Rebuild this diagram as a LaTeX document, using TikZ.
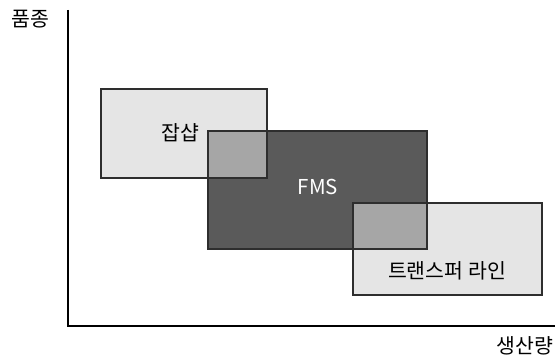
\documentclass[tikz,border=0pt]{standalone}
\usepackage{fontspec}
\setmainfont{Noto Sans CJK KR}
\begin{document}
\begin{tikzpicture}[x=1pt,y=-1pt,
  lightbox/.style={fill=boxlight},
  darkbox/.style={fill=boxdark},
  overlapbox/.style={fill=boxmid},
  outline/.style={draw=edgecol,line width=1.4pt},
  axis/.style={draw=black,line width=1.2pt},
  lbl/.style={font=\fontsize{20.5}{20.5}\selectfont,inner sep=0pt}]
\definecolor{boxlight}{HTML}{E5E5E5}
\definecolor{boxdark}{HTML}{5A5A5A}
\definecolor{boxmid}{HTML}{A6A6A6}
\definecolor{edgecol}{HTML}{2E2E2E}
\useasboundingbox (0,0) rectangle (556,358);
% corner coordinates
\coordinate (jA) at (101,89);  \coordinate (jB) at (267,178);
\coordinate (fA) at (208,131); \coordinate (fB) at (427,249);
\coordinate (tA) at (353,203); \coordinate (tB) at (542,295);
% fills
\fill[lightbox] (jA) rectangle (jB);
\fill[lightbox] (tA) rectangle (tB);
\fill[darkbox] (fA) rectangle (fB);
\fill[overlapbox] (fA) rectangle (jB);
\fill[overlapbox] (tA) rectangle (fB);
% outlines
\draw[outline] (jA) rectangle (jB);
\draw[outline] (fA) rectangle (fB);
\draw[outline] (tA) rectangle (tB);
% axes
\coordinate (top) at (68,10);
\coordinate (origin) at (68,326);
\coordinate (right) at (555,326);
\draw[axis] (top) -- (origin) -- (right);
% labels
\node[lbl] (yl) at (30,19) {품종};
\node[lbl] (xl) at (525,346) {생산량};
\node[lbl] (job) at (180,133) {잡샵};
\node[lbl,text=white] (fms) at (318,187) {FMS};
\node[lbl] (tl) at (447,271) {트랜스퍼 라인};
\end{tikzpicture}
\end{document}
